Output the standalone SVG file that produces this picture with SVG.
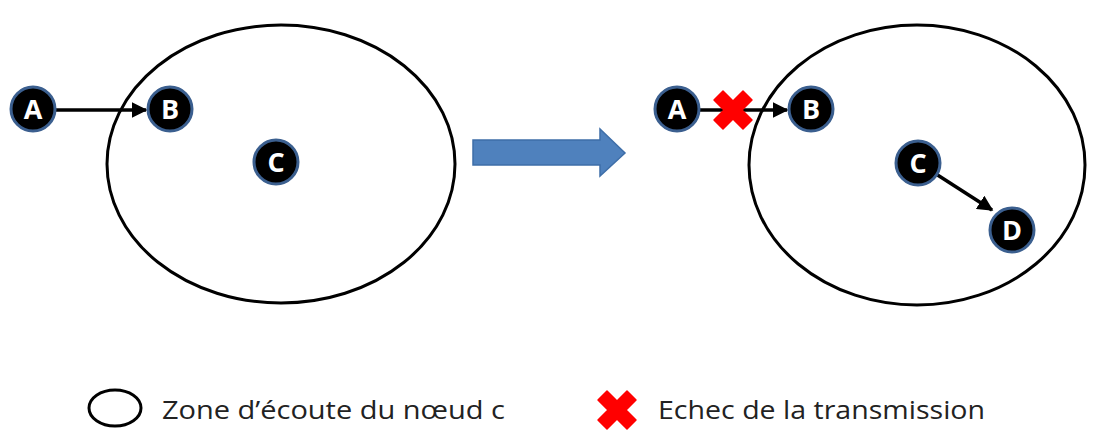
<svg xmlns="http://www.w3.org/2000/svg" width="1094" height="432" viewBox="0 0 1094 432">
<style>
.zone{fill:none;stroke:#000;stroke-width:3}
.node circle{fill:#000;stroke:#3b5f8f;stroke-width:3}
.node text{fill:#fff;font-family:"Open Sans","Liberation Sans",sans-serif;font-weight:bold;font-size:27px;text-anchor:middle}
.conn{stroke:#000;stroke-width:3.5;fill:none;marker-end:url(#ah)}
.lbl{font-family:"Open Sans","Liberation Sans",sans-serif;font-size:26px;fill:#222}
</style>
<defs>
<marker id="ah" viewBox="0 0 10 10" refX="9" refY="5" markerWidth="4.5" markerHeight="4.5" orient="auto" markerUnits="strokeWidth">
<path d="M0,0 L10,5 L0,10 Z" fill="#000"/>
</marker>
<path id="xmark" d="M-19,-10 L-10,-19 L0,-9 L10,-19 L19,-10 L9,0 L19,10 L10,19 L0,9 L-10,19 L-19,10 L-9,0 Z" fill="#f00" stroke="#f00" stroke-width="1.5" stroke-linejoin="round"/>
</defs>
<rect width="1094" height="432" fill="#fff"/>
<g id="zones">
<ellipse class="zone" cx="281" cy="164" rx="174" ry="139"/>
<ellipse class="zone" cx="917" cy="165" rx="168" ry="140"/>
</g>
<g id="connectors">
<line class="conn" x1="55" y1="110" x2="146" y2="110"/>
<line class="conn" x1="699" y1="110" x2="787" y2="110"/>
<line class="conn" x1="936" y1="174" x2="992" y2="210"/>
</g>
<g id="big-arrow">
<path d="M473,140 L600,140 L600,129 L625,153 L600,176 L600,165 L473,165 Z" fill="#4f81bd" stroke="#3e6ea8" stroke-width="1.5"/>
</g>
<g id="fail">
<use href="#xmark" x="733" y="110"/>
</g>
<g id="nodeA1" class="node"><circle cx="33" cy="109" r="22"/><text x="33" y="119">A</text></g>
<g id="nodeB1" class="node"><circle cx="170" cy="109" r="22"/><text x="170" y="119">B</text></g>
<g id="nodeC1" class="node"><circle cx="276" cy="162" r="22"/><text x="276" y="172">C</text></g>
<g id="nodeA2" class="node"><circle cx="677" cy="109" r="22"/><text x="677" y="119">A</text></g>
<g id="nodeB2" class="node"><circle cx="811" cy="109" r="22"/><text x="811" y="119">B</text></g>
<g id="nodeC2" class="node"><circle cx="918" cy="163" r="22"/><text x="918" y="173">C</text></g>
<g id="nodeD2" class="node"><circle cx="1012" cy="230" r="22"/><text x="1012" y="240">D</text></g>
<g id="legend">
<ellipse class="zone" cx="115" cy="408" rx="26" ry="18"/>
<text class="lbl" x="162" y="419" textLength="343" lengthAdjust="spacingAndGlyphs">Zone d’écoute du nœud c</text>
<use href="#xmark" x="617" y="410"/>
<text class="lbl" x="658" y="419" textLength="327" lengthAdjust="spacingAndGlyphs">Echec de la transmission</text>
</g>
</svg>
